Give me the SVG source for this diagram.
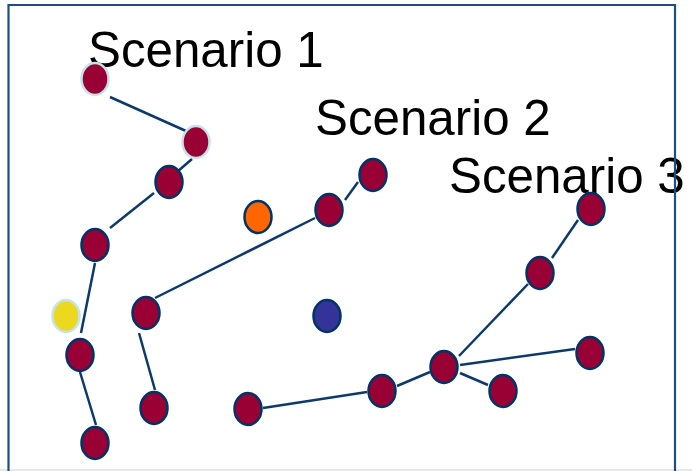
<svg xmlns="http://www.w3.org/2000/svg" width="692" height="471" viewBox="0 0 692 471">
<style>
.n{fill:#990033;stroke:#003366;stroke-width:2.5}
.nl{fill:#990033;stroke:#c5e3e8;stroke-width:2.5}
.e line{stroke:#0d3a6b;stroke-width:2.5}
.t{font-family:"Liberation Sans",Arial,sans-serif;font-size:49.3px;fill:#000}
</style>
<rect width="692" height="471" fill="#fff"/>
<line x1="0" y1="470" x2="692" y2="470" stroke="#e2e8ec" stroke-width="2"/>
<g id="labels">
<text class="t" x="88" y="67">Scenario 1</text>
<text class="t" x="315" y="135">Scenario 2</text>
<text class="t" x="449" y="193">Scenario 3</text>
</g>
<g id="connectors" class="e">
<line x1="110" y1="97" x2="186" y2="131"/>
<line x1="192" y1="159" x2="177" y2="172"/>
<line x1="154" y1="193" x2="110" y2="228"/>
<line x1="95" y1="263" x2="81" y2="333"/>
<line x1="80" y1="372" x2="96" y2="425"/>
<line x1="155" y1="298" x2="315" y2="218"/>
<line x1="345" y1="200" x2="358" y2="182"/>
<line x1="139" y1="333" x2="155" y2="390"/>
<line x1="263" y1="408" x2="367" y2="392"/>
<line x1="397" y1="386" x2="430" y2="372"/>
<line x1="460" y1="373" x2="488" y2="385"/>
<line x1="460" y1="365" x2="575" y2="349"/>
<line x1="459" y1="356" x2="528" y2="284"/>
<line x1="552" y1="258" x2="578" y2="220"/>
</g>
<g id="n1"><ellipse class="nl" cx="95" cy="79" rx="13.5" ry="16"/></g>
<g id="n2"><ellipse class="nl" cx="196" cy="142" rx="13.5" ry="16"/></g>
<g id="n3"><ellipse class="n" cx="169" cy="182" rx="13.5" ry="16"/></g>
<g id="n4"><ellipse class="n" cx="95" cy="245" rx="13.5" ry="16"/></g>
<g id="orange"><ellipse cx="258" cy="217" rx="13.5" ry="16" fill="#ff6600" stroke="#003366" stroke-width="2.5"/></g>
<g id="n5"><ellipse class="n" cx="329" cy="210" rx="13.5" ry="16"/></g>
<g id="n6"><ellipse class="n" cx="373" cy="175" rx="13.5" ry="16"/></g>
<g id="yellow"><ellipse cx="66" cy="316" rx="13.5" ry="16" fill="#ebd81f" stroke="#c5e3e8" stroke-width="2.5"/></g>
<g id="n7"><ellipse class="n" cx="80" cy="355" rx="13.5" ry="16"/></g>
<g id="n8"><ellipse class="n" cx="95" cy="443" rx="13.5" ry="16"/></g>
<g id="n9"><ellipse class="n" cx="146" cy="313" rx="13.5" ry="16"/></g>
<g id="n10"><ellipse class="n" cx="154" cy="408" rx="13.5" ry="16"/></g>
<g id="blue"><ellipse cx="327" cy="316" rx="13.5" ry="16" fill="#333399" stroke="#003366" stroke-width="2.5"/></g>
<g id="n11"><ellipse class="n" cx="248" cy="409" rx="13.5" ry="16"/></g>
<g id="n12"><ellipse class="n" cx="382" cy="391" rx="13.5" ry="16"/></g>
<g id="n13"><ellipse class="n" cx="444" cy="367" rx="13.5" ry="16"/></g>
<g id="n14"><ellipse class="n" cx="503" cy="391" rx="13.5" ry="16"/></g>
<g id="n15"><ellipse class="n" cx="590" cy="353" rx="13.5" ry="16"/></g>
<g id="n16"><ellipse class="n" cx="540" cy="273" rx="13.5" ry="16"/></g>
<g id="n17"><ellipse class="n" cx="591" cy="209" rx="13.5" ry="16"/></g>
<g id="frame"><path d="M8.5 480 V5 H675 V480" fill="none" stroke="#1f4e79" stroke-width="2.2"/></g>
</svg>
